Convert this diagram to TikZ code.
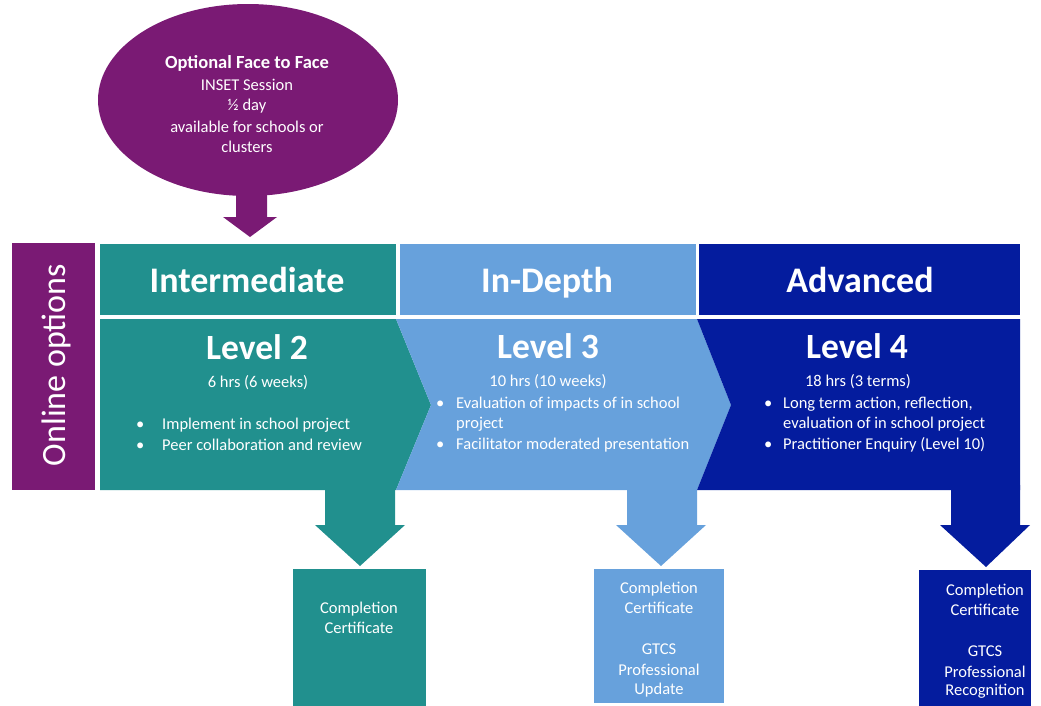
\documentclass[tikz,border=0pt]{standalone}
\usepackage{fontspec}
\setmainfont{Carlito}
\usetikzlibrary{shapes.geometric}
\definecolor{cpurple}{RGB}{122,26,116}
\definecolor{cteal}{RGB}{33,144,142}
\definecolor{clight}{RGB}{103,161,220}
\definecolor{cdark}{RGB}{4,28,158}
\begin{document}
\begin{tikzpicture}[x=1pt,y=-1pt,
  box/.style={rectangle, inner sep=0pt, draw=none},
  wtxt/.style={text=white, inner sep=0pt, anchor=base},
  hdrfont/.style={font=\bfseries\fontsize{36}{40}\selectfont},
  lvlfont/.style={font=\bfseries\fontsize{35.5}{38}\selectfont},
  smallfont/.style={font=\fontsize{16.5}{21}\selectfont},
  blist/.style={text=white, inner sep=0pt, anchor=base west, align=left, font=\fontsize{16.5}{20.5}\selectfont}
]
\path[use as bounding box] (0,0) rectangle (1041,705);

% optional face to face ellipse
\node[ellipse, fill=cpurple, minimum width=300pt, minimum height=192pt, inner sep=0pt] (face) at (248,100) {};
\fill[cpurple] (236,185) -- (267,185) -- (267,217) -- (277,217) -- (250,237) -- (223,217) -- (236,217) -- cycle;
\coordinate (facetip) at (250,237);
\node[wtxt, font=\bfseries\fontsize{18.5}{21}\selectfont] (ft1) at (247,68) {Optional Face to Face};
\node[wtxt, smallfont] (ft2) at (247,90) {INSET Session};
\node[wtxt, smallfont] (ft3) at (247,110) {½ day};
\node[wtxt, smallfont] (ft4) at (247,132) {available for schools or};
\node[wtxt, smallfont] (ft5) at (247,152) {clusters};

% online options
\node[box, fill=cpurple, minimum width=83pt, minimum height=247pt] (online) at (53.5,366.5) {};
\node[text=white, inner sep=0pt, rotate=90, font=\fontsize{34}{36}\selectfont] (onlinetxt) at (56,365) {Online options};

% headers
\node[box, fill=cteal, minimum width=296pt, minimum height=71pt] (h1) at (248,279.5) {};
\node[box, fill=clight, minimum width=296pt, minimum height=71pt] (h2) at (548,279.5) {};
\node[box, fill=cdark, minimum width=321pt, minimum height=71pt] (h3) at (859.5,279.5) {};
\node[wtxt, hdrfont] (h1t) at (247,292) {Intermediate};
\node[wtxt, hdrfont] (h2t) at (547,292) {In-Depth};
\node[wtxt, hdrfont] (h3t) at (860,292) {Advanced};

% chevrons
\fill[cteal] (100,319) -- (396,319) -- (431,405) -- (396,490) -- (100,490) -- cycle;
\fill[clight] (396,319) -- (697,319) -- (731,405) -- (697,490) -- (396,490) -- (431,405) -- cycle;
\fill[cdark] (697,319) -- (1020,319) -- (1020,490) -- (697,490) -- (731,405) -- cycle;

% level texts
\node[wtxt, lvlfont] (l2) at (257,359) {Level 2};
\node[wtxt, smallfont] (l2h) at (258,387) {6 hrs (6 weeks)};
\node[blist] (l2b) at (136,450) {\makebox[26pt][l]{\textbullet}Implement in school project\\\makebox[26pt][l]{\textbullet}Peer collaboration and review};

\node[wtxt, lvlfont] (l3) at (548,358) {Level 3};
\node[wtxt, smallfont] (l3h) at (548,386) {10 hrs (10 weeks)};
\node[blist] (l3b) at (436,449) {\makebox[20pt][l]{\textbullet}Evaluation of impacts of in school\\\makebox[20pt][l]{}project\\\makebox[20pt][l]{\textbullet}Facilitator moderated presentation};

\node[wtxt, lvlfont] (l4) at (857,358) {Level 4};
\node[wtxt, smallfont] (l4h) at (858,386) {18 hrs (3 terms)};
\node[blist] (l4b) at (764,449) {\makebox[19pt][l]{\textbullet}Long term action, reflection,\\\makebox[19pt][l]{}evaluation of in school project\\\makebox[19pt][l]{\textbullet}Practitioner Enquiry (Level 10)};

% down arrows
\fill[cteal] (325,485) -- (395,485) -- (395,525) -- (405,525) -- (360,566) -- (315,525) -- (325,525) -- cycle;
\fill[clight] (627,485) -- (697,485) -- (697,525) -- (706,525) -- (661,566) -- (616,525) -- (627,525) -- cycle;
\fill[cdark] (951,485) -- (1020,485) -- (1020,525) -- (1030,525) -- (986,567) -- (940,525) -- (951,525) -- cycle;

% certificate boxes
\node[box, fill=cteal, minimum width=133pt, minimum height=137pt] (c2) at (359.5,637.5) {};
\node[box, fill=clight, minimum width=130pt, minimum height=134pt] (c3) at (659,636) {};
\node[box, fill=cdark, minimum width=112pt, minimum height=136pt] (c4) at (975,638) {};

\node[wtxt, smallfont] (c2a) at (359,613) {Completion};
\node[wtxt, smallfont] (c2b) at (359,633) {Certificate};

\node[wtxt, smallfont] (c3a) at (659,593) {Completion};
\node[wtxt, smallfont] (c3b) at (659,613) {Certificate};
\node[wtxt, smallfont] (c3c) at (659,654) {GTCS};
\node[wtxt, smallfont] (c3d) at (659,675) {Professional};
\node[wtxt, smallfont] (c3e) at (659,694) {Update};

\node[wtxt, smallfont] (c4a) at (985,595) {Completion};
\node[wtxt, smallfont] (c4b) at (985,615) {Certificate};
\node[wtxt, smallfont] (c4c) at (985,656) {GTCS};
\node[wtxt, smallfont] (c4d) at (985,677) {Professional};
\node[wtxt, smallfont] (c4e) at (985,695) {Recognition};
\end{tikzpicture}
\end{document}
